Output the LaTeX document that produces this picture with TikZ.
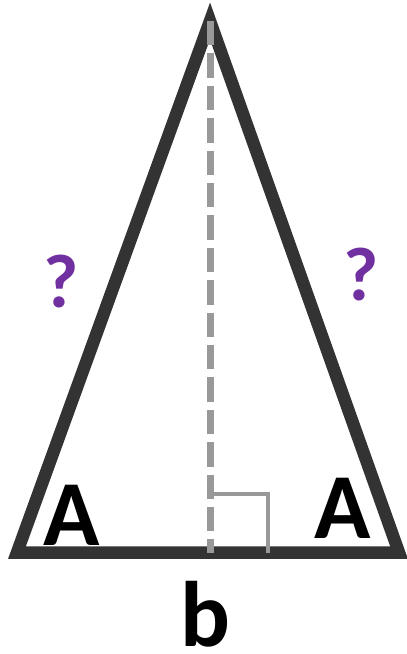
\documentclass[tikz,border=0pt]{standalone}
\usepackage{fontspec}
\setmainfont{Carlito}
\definecolor{edgedark}{HTML}{333333}
\definecolor{heightgray}{HTML}{999999}
\definecolor{qpurple}{HTML}{7030A0}
\begin{document}
\begin{tikzpicture}[x=1pt,y=-1pt,
  edge/.style={draw=edgedark,line width=12.5pt,line join=miter,miter limit=10},
  heightline/.style={draw=heightgray,line width=7pt,dash pattern=on 24.3pt off 8.1pt},
  rightmark/.style={draw=heightgray,line width=3.5pt},
  anglelbl/.style={inner sep=0pt,font=\fontsize{93}{93}\selectfont\bfseries,text=black},
  sidelbl/.style={inner sep=0pt,font=\fontsize{76}{76}\selectfont\bfseries,text=qpurple}]
\useasboundingbox (0,0) rectangle (407,654);
\coordinate (apex) at (210,21);
\coordinate (bl) at (17,552.5);
\coordinate (br) at (399,552.5);
\coordinate (foot) at (210,552.5);
\coordinate (m1) at (210,494);
\coordinate (m2) at (268,494);
\coordinate (m3) at (268,552.5);
\draw[edge] (apex) -- (bl) -- (br) -- cycle;
\draw[heightline] (apex) -- (foot);
\draw[rightmark] (m1) -- (m2) -- (m3);
\node[anglelbl] (Aleft) at (72,515) {A};
\node[anglelbl] (Aright) at (343,508) {A};
\node[anglelbl] (base) at (205,614) {b};
\node[sidelbl] (qleft) at (61,282) {?};
\node[sidelbl] (qright) at (361,275) {?};
\end{tikzpicture}
\end{document}
